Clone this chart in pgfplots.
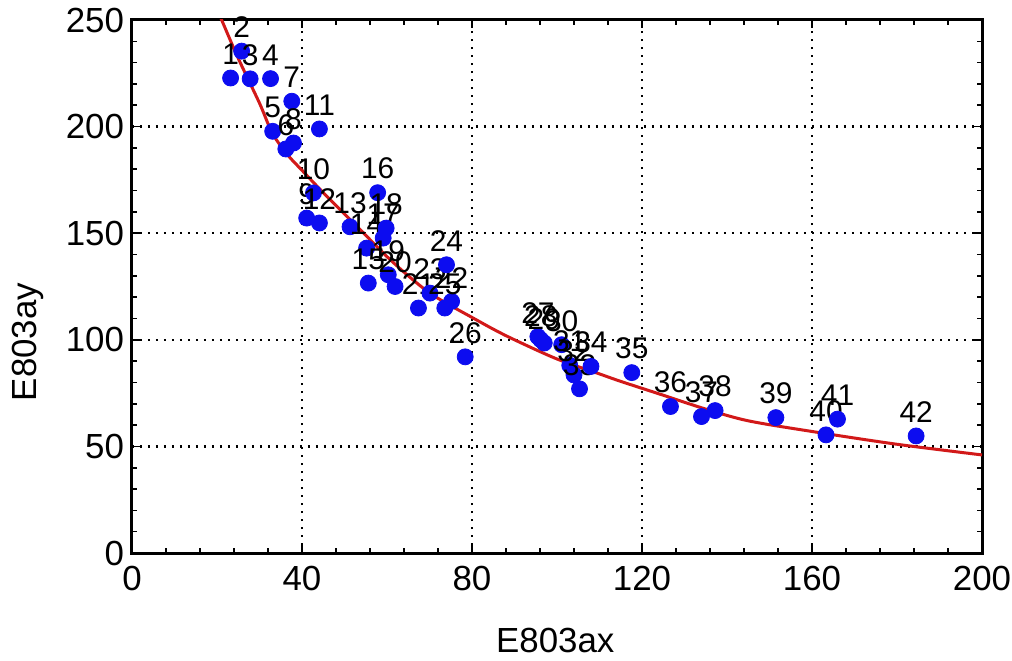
\documentclass[border=0pt]{standalone}
\usepackage{fontspec}
\setmainfont{Liberation Sans}
\usepackage{pgfplots}
\pgfplotsset{compat=1.18}
\usepackage{pgfplotstable}
\definecolor{ptblue}{RGB}{12,12,240}
\definecolor{fitred}{RGB}{210,25,25}
\pgfplotstableread{
x y lab
23.2 222.8 1
25.8 235.4 2
27.8 222.4 3
32.6 222.5 4
33.1 197.8 5
36.2 189.5 6
37.6 211.9 7
38.0 192.3 8
41.1 157.1 9
42.7 168.9 10
44.1 198.9 11
44.1 154.8 12
51.3 153.0 13
55.2 143.0 14
55.6 126.6 15
57.8 169.0 16
59.1 147.7 17
59.8 152.4 18
60.3 130.5 19
61.9 125.0 20
67.4 114.9 21
75.2 118.0 22
70.1 121.9 23
74.0 135.2 24
73.6 114.9 25
78.4 92.0 26
95.5 101.5 27
96.2 100.0 28
97.0 98.5 29
101.1 97.7 30
103.0 88.0 31
104.0 83.5 32
105.3 77.0 33
108.0 87.5 34
117.6 84.6 35
126.7 68.7 36
134.0 64.0 37
137.2 66.8 38
151.5 63.5 39
163.3 55.4 40
166.0 62.8 41
184.5 54.9 42
}\pts
\pgfplotstableread{
x y
20.4 253
21.1 250
25 232
30 211
33 197
36.5 187
40 179.5
45 169
50 159
55 149
60 139
65 130
70 122
75 116
80 110.5
85 105
90 100
100 91
110 84
115 80.5
125 74
135 67.5
145 62
160 57
180 51
200 46
}\fit
\begin{document}
\begin{tikzpicture}
\begin{axis}[name=ax, at={(0,0)}, anchor=south west,
  scale only axis, width=425bp, height=266.5bp,
  xmin=0, xmax=200, ymin=0, ymax=250,
  xtick={0,40,...,200}, ytick={0,50,...,250},
  minor x tick num=4, minor y tick num=4,
  tick align=inside, major tick length=4bp, minor tick length=2.5bp,
  axis line style={line width=1.5bp},
  every tick/.style={black, line width=0.8bp},
  grid=major,
  major grid style={black, line width=1.2bp, dash pattern=on 1.1bp off 2.9bp},
  tick label style={font=\fontsize{17.5}{17.5}\selectfont},
  xticklabel style={yshift=-3bp},
  yticklabel style={xshift=-0.5bp},
  /pgf/number format/assume math mode=true,
  xlabel={E803ax}, ylabel={E803ay},
  every axis x label/.style={at={(axis description cs:0.498,0)}, anchor=center, yshift=-43.5bp, font=\fontsize{17.5}{17.5}\selectfont},
  every axis y label/.style={at={(axis description cs:0,0.396)}, anchor=center, xshift=-52bp, rotate=90, font=\fontsize{17.5}{17.5}\selectfont},
]
\addplot[only marks, mark=*, mark size=4bp,
  mark options={fill=ptblue, draw=ptblue},
  nodes near coords, point meta=explicit symbolic,
  nodes near coords style={anchor=south, inner sep=0pt, yshift=6.5bp,
    font=\fontsize{15}{15}\selectfont, text=black}]
  table[x=x, y=y, meta=lab]{\pts};
\addplot[fitred, line width=1.5bp, smooth] table[x=x, y=y]{\fit};
\end{axis}
\pgfresetboundingbox
\path (-66bp,-54bp) rectangle (440bp,276.5bp);
\end{tikzpicture}
\end{document}
